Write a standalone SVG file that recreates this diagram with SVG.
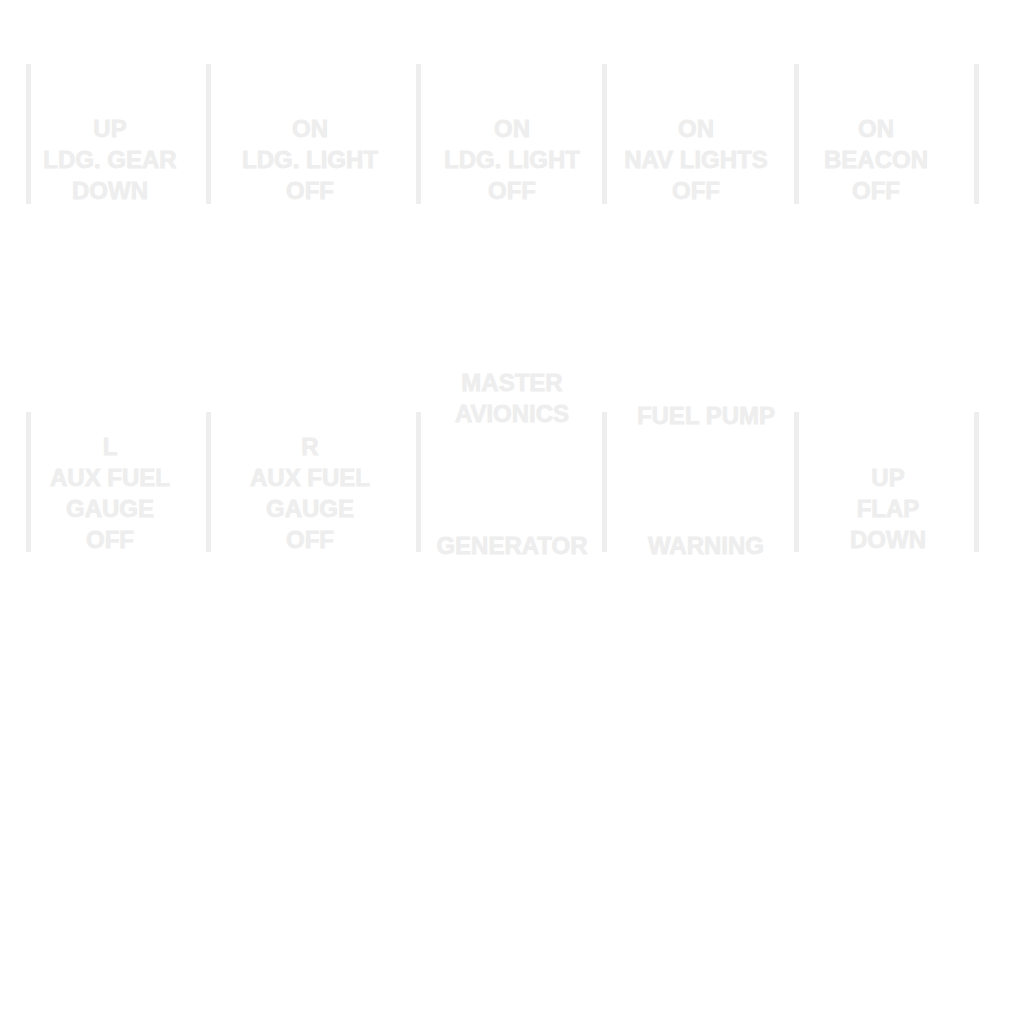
<svg xmlns="http://www.w3.org/2000/svg" width="1024" height="1024" viewBox="0 0 1024 1024">
<style>
.bar{fill:#eeeeee}
text{font-family:"Liberation Sans",Arial,sans-serif;font-weight:bold;font-size:24px;fill:#eeeeee;stroke:#eeeeee;stroke-width:0.8;text-anchor:middle}
</style>
<rect width="1024" height="1024" fill="#ffffff"/>
<g id="dividers">
<rect class="bar" x="26" y="64" width="5" height="140"/>
<rect class="bar" x="206" y="64" width="5" height="140"/>
<rect class="bar" x="416" y="64" width="5" height="140"/>
<rect class="bar" x="602" y="64" width="5" height="140"/>
<rect class="bar" x="794" y="64" width="5" height="140"/>
<rect class="bar" x="974" y="64" width="5" height="140"/>
<rect class="bar" x="26" y="412" width="5" height="140"/>
<rect class="bar" x="206" y="412" width="5" height="140"/>
<rect class="bar" x="416" y="412" width="5" height="140"/>
<rect class="bar" x="602" y="412" width="5" height="140"/>
<rect class="bar" x="794" y="412" width="5" height="140"/>
<rect class="bar" x="974" y="412" width="5" height="140"/>
</g>
<g id="gear"><text x="110" y="137">UP</text><text x="110" y="168">LDG. GEAR</text><text x="110" y="199">DOWN</text></g>
<g id="ldglight1"><text x="310" y="137">ON</text><text x="310" y="168">LDG. LIGHT</text><text x="310" y="199">OFF</text></g>
<g id="ldglight2"><text x="512" y="137">ON</text><text x="512" y="168">LDG. LIGHT</text><text x="512" y="199">OFF</text></g>
<g id="navlights"><text x="696" y="137">ON</text><text x="696" y="168">NAV LIGHTS</text><text x="696" y="199">OFF</text></g>
<g id="beacon"><text x="876" y="137">ON</text><text x="876" y="168">BEACON</text><text x="876" y="199">OFF</text></g>
<g id="lauxfuel"><text x="110" y="455">L</text><text x="110" y="486">AUX FUEL</text><text x="110" y="517">GAUGE</text><text x="110" y="548">OFF</text></g>
<g id="rauxfuel"><text x="310" y="455">R</text><text x="310" y="486">AUX FUEL</text><text x="310" y="517">GAUGE</text><text x="310" y="548">OFF</text></g>
<g id="master"><text x="512" y="391">MASTER</text><text x="512" y="422">AVIONICS</text><text x="512" y="554">GENERATOR</text></g>
<g id="fuelpump"><text x="706" y="424">FUEL PUMP</text><text x="706" y="554">WARNING</text></g>
<g id="flap"><text x="888" y="486">UP</text><text x="888" y="517">FLAP</text><text x="888" y="548">DOWN</text></g>
</svg>
